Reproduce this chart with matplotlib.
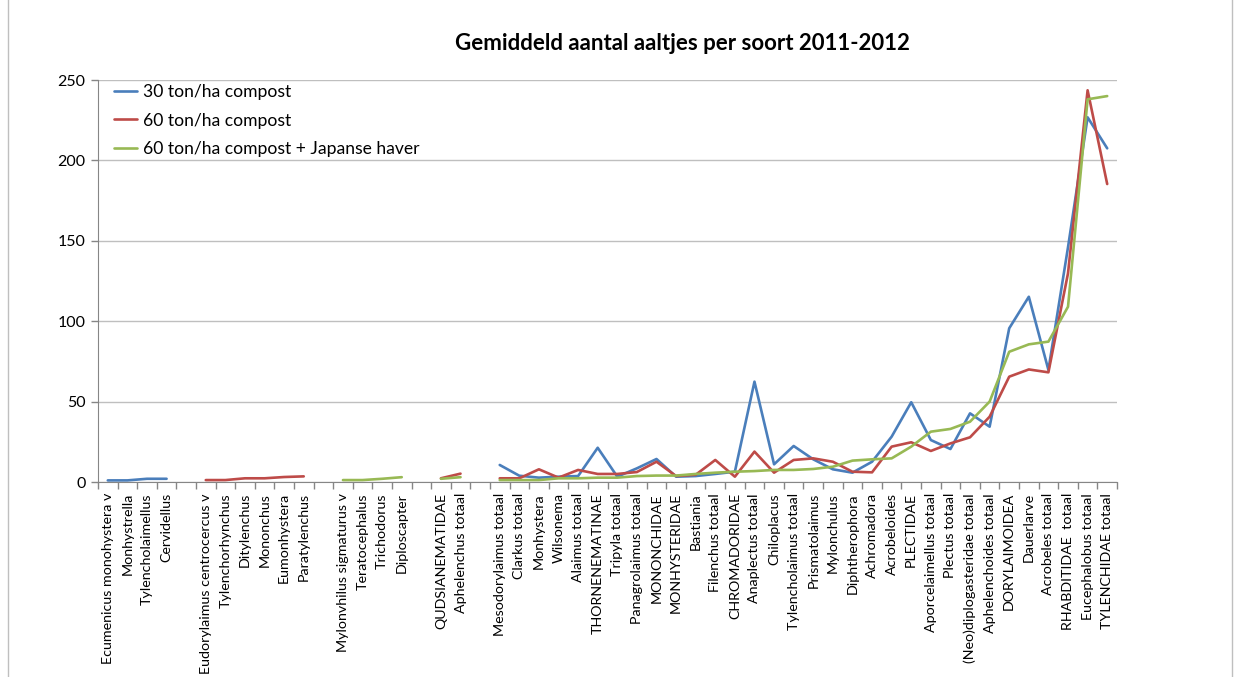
import numpy as np
import matplotlib
matplotlib.use("Agg")
from matplotlib import pyplot as plt
from matplotlib.patches import Rectangle

plt.rcParams['font.family'] = ['Lato', 'DejaVu Sans']

nan = np.nan

# categories (empty strings are the gaps between groups)
categories = [
    'Ecumenicus monohystera v', 'Monhystrella', 'Tylencholaimellus', 'Cervidellus', '',
    'Eudorylaimus centrocercus v', 'Tylenchorhynchus', 'Ditylenchus', 'Mononchus',
    'Eumonhystera', 'Paratylenchus', '',
    'Mylonvhilus sigmaturus v', 'Teratocephalus', 'Trichodorus', 'Diploscapter', '',
    'QUDSIANEMATIDAE', 'Aphelenchus totaal', '',
    'Mesodorylaimus totaal', 'Clarkus totaal', 'Monhystera', 'Wilsonema', 'Alaimus totaal',
    'THORNENEMATINAE', 'Tripyla totaal', 'Panagrolaimus totaal', 'MONONCHIDAE',
    'MONHYSTERIDAE', 'Bastiania', 'Filenchus totaal', 'CHROMADORIDAE', 'Anaplectus totaal',
    'Chiloplacus', 'Tylencholaimus totaal', 'Prismatolaimus', 'Mylonchulus',
    'Diphtherophora', 'Achromadora', 'Acrobeloides', 'PLECTIDAE', 'Aporcelaimellus totaal',
    'Plectus totaal', '(Neo)diplogasteridae totaal', 'Aphelenchoides totaal',
    'DORYLAIMOIDEA', 'Dauerlarve', 'Acrobeles totaal', 'RHABDITIDAE  totaal',
    'Eucephalobus totaal', 'TYLENCHIDAE totaal',
]

compost_30 = ([1, 1, 2, 2] + [nan] + [nan] * 6 + [nan] + [nan] * 4 + [nan] + [nan] * 2 + [nan] +
              [10.6, 3.9, 2.7, 3.3, 3.7, 21.3, 3.3, 8.5, 14.3, 3.3, 3.7, 5, 6.4, 62.4, 11, 22.4,
               14.1, 7.9, 5.8, 12.6, 28.2, 49.6, 26.1, 20.5, 42.7, 34.4, 95.6, 115.2, 69.7, 146,
               226.8, 207.5])
compost_60 = ([nan] * 4 + [nan] + [1.2, 1.2, 2.3, 2.3, 3.1, 3.5] + [nan] + [nan] * 4 + [nan] +
              [2.3, 5.2] + [nan] +
              [2.3, 2.3, 7.9, 2.7, 7.5, 5, 5, 6.2, 12.6, 3.7, 4.5, 13.7, 3.3, 18.9, 5.8, 13.7,
               14.7, 12.6, 6.4, 6, 22, 24.7, 19.3, 24, 27.8, 40.6, 65.5, 70, 68.2, 129.8,
               243.6, 185.3])
compost_60_haver = ([nan] * 4 + [nan] + [nan] * 6 + [nan] + [1.2, 1.2, 2, 3] + [nan] +
                    [2, 3] + [nan] +
                    [1.2, 1.2, 1.2, 2.3, 2.3, 2.7, 2.7, 3.7, 4, 4, 5, 5.8, 6.4, 6.8, 7.5, 7.5,
                     8.1, 9.5, 13.3, 14.1, 14.7, 22, 31.3, 33, 37.5, 50, 81, 85.6, 87.3, 109,
                     238, 240])

series_names = ['30 ton/ha compost', '60 ton/ha compost', '60 ton/ha compost + Japanse haver']
colors = ['#4A7EBB', '#BE4B48', '#98B954']

W, H = 1237, 677
fig = plt.figure(figsize=(W / 100, H / 100), dpi=100)
ax = fig.add_axes([98 / W, 1 - 482 / H, (1117 - 98) / W, (482 - 80) / H])

x = np.arange(len(categories))
for vals, name, c in zip([compost_30, compost_60, compost_60_haver], series_names, colors):
    ax.plot(x, vals, color=c, lw=1.9, label=name, solid_joinstyle='round', solid_capstyle='round')

ax.set_xlim(-0.5, len(categories) - 0.5)
ax.set_ylim(0, 250)
ax.set_yticks(np.arange(0, 251, 50))
ax.yaxis.grid(True, color='#BFBFBF', lw=1)
ax.set_axisbelow(True)

ax.set_xticks(x)
ax.set_xticklabels(categories, rotation=90, fontsize=10.3)
ax.set_xticks(np.arange(-0.5, len(categories), 1), minor=True)
ax.tick_params(axis='x', which='major', length=0, pad=8)
ax.tick_params(axis='x', which='minor', length=5, color='#868686', width=1)
ax.tick_params(axis='y', length=5, color='#868686', width=1, labelsize=11.5, pad=4)

for s in ['top', 'right']:
    ax.spines[s].set_visible(False)
for s in ['left', 'bottom']:
    ax.spines[s].set_color('#868686')

ax.legend(loc='upper left', bbox_to_anchor=(0.012, 0.998), frameon=False, fontsize=12.6,
          handlelength=1.35, handletextpad=0.3, labelspacing=0.7, borderaxespad=0.0,
          borderpad=0.2)

fig.text(682 / W, 1 - 44 / H, 'Gemiddeld aantal aaltjes per soort 2011-2012',
         ha='center', va='center', fontsize=16, fontweight='bold')

fig.patches.append(Rectangle((8 / W, -0.1), 1224 / W, 1.2, transform=fig.transFigure,
                             fill=False, edgecolor='#BFBFBF', lw=1))

fig.savefig('out.png', dpi=100)
